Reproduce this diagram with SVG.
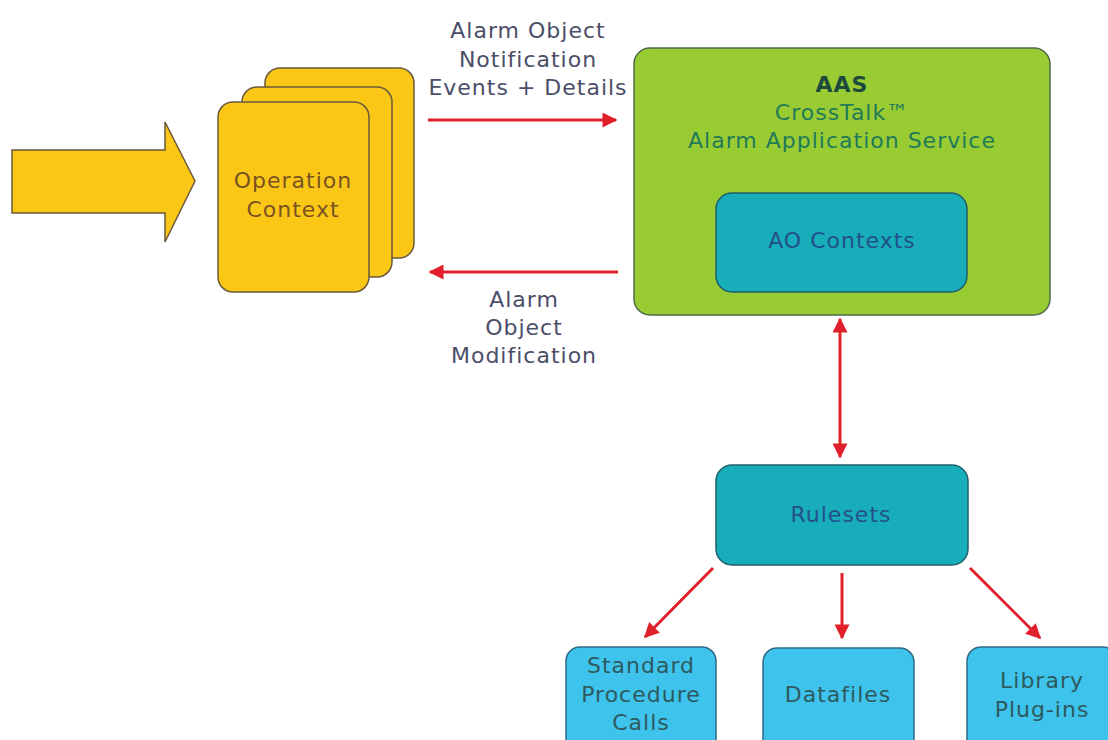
<svg xmlns="http://www.w3.org/2000/svg" width="1108" height="740" viewBox="0 0 1108 740">
<defs>
<style>
.t{font-family:"DejaVu Sans",Verdana,sans-serif;font-size:22px;letter-spacing:1px;text-anchor:middle}
.lbl{fill:#4b4e68}
.card{fill:#fbc716;stroke:#6b5a3c;stroke-width:1.5}
.conn{stroke:#e0202a;stroke-width:3;fill:none}
.blue{fill:#3dc3ec;stroke:#2f6a86;stroke-width:1.5}
.teal{fill:#17adbb;stroke:#1f5e6a;stroke-width:1.5}
</style>
<marker id="ah" viewBox="0 0 10 10" refX="9" refY="5" markerWidth="17" markerHeight="15" markerUnits="userSpaceOnUse" orient="auto-start-reverse">
<path d="M0,0 L10,5 L0,10 Z" fill="#e0202a"/>
</marker>
</defs>
<rect width="1108" height="740" fill="#ffffff"/>

<g id="input-arrow">
<polygon points="12,150 165,150 165,122 195,181 165,242 165,213 12,213" fill="#fbc716" stroke="#6b5a3c" stroke-width="1.5"/>
</g>

<g id="operation-context">
<rect class="card" x="265" y="68" width="149" height="190" rx="15"/>
<rect class="card" x="242" y="87" width="150" height="190" rx="15"/>
<rect class="card" x="218" y="102" width="151" height="190" rx="15"/>
<text class="t" x="293" y="188" fill="#7a5322">Operation</text>
<text class="t" x="293" y="217" fill="#7a5322">Context</text>
</g>

<g id="aas">
<rect x="634" y="48" width="416" height="267" rx="16" fill="#99cc33" stroke="#4f6a4a" stroke-width="1.5"/>
<text class="t" x="842" y="92" fill="#1d4a3c" font-weight="bold" letter-spacing="0.5">AAS</text>
<text class="t" x="842" y="120" fill="#217a58">CrossTalk™</text>
<text class="t" x="842" y="148" fill="#217a58">Alarm Application Service</text>
</g>

<g id="ao-contexts">
<rect class="teal" x="716" y="193" width="251" height="99" rx="16"/>
<text class="t" x="842" y="248" fill="#24508a">AO Contexts</text>
</g>

<g id="rulesets">
<rect class="teal" x="716" y="465" width="252" height="100" rx="16"/>
<text class="t" x="841" y="522" fill="#24508a">Rulesets</text>
</g>

<g id="standard-procedure-calls">
<rect class="blue" x="566" y="647" width="150" height="110" rx="14"/>
<text class="t" x="641" y="673" fill="#2e5a5e">Standard</text>
<text class="t" x="641" y="702" fill="#2e5a5e">Procedure</text>
<text class="t" x="641" y="730" fill="#2e5a5e">Calls</text>
</g>

<g id="datafiles">
<rect class="blue" x="763" y="648" width="151" height="110" rx="14"/>
<text class="t" x="838" y="702" fill="#2e5a5e">Datafiles</text>
</g>

<g id="library-plug-ins">
<rect class="blue" x="967" y="647" width="150" height="110" rx="14"/>
<text class="t" x="1042" y="688" fill="#2e5a5e">Library</text>
<text class="t" x="1042" y="717" fill="#2e5a5e">Plug-ins</text>
</g>

<g id="connectors">
<line class="conn" x1="428" y1="120" x2="616" y2="120" marker-end="url(#ah)"/>
<line class="conn" x1="618" y1="272" x2="430" y2="272" marker-end="url(#ah)"/>
<line class="conn" x1="840" y1="319" x2="840" y2="457" marker-start="url(#ah)" marker-end="url(#ah)"/>
<line class="conn" x1="713" y1="568" x2="645" y2="637" marker-end="url(#ah)"/>
<line class="conn" x1="842" y1="573" x2="842" y2="638" marker-end="url(#ah)"/>
<line class="conn" x1="970" y1="568" x2="1040" y2="638" marker-end="url(#ah)"/>
</g>

<g id="labels">
<text class="t lbl" x="528" y="38">Alarm Object</text>
<text class="t lbl" x="528" y="67">Notification</text>
<text class="t lbl" x="528" y="95">Events + Details</text>
<text class="t lbl" x="524" y="307">Alarm</text>
<text class="t lbl" x="524" y="335">Object</text>
<text class="t lbl" x="524" y="363">Modification</text>
</g>
</svg>
